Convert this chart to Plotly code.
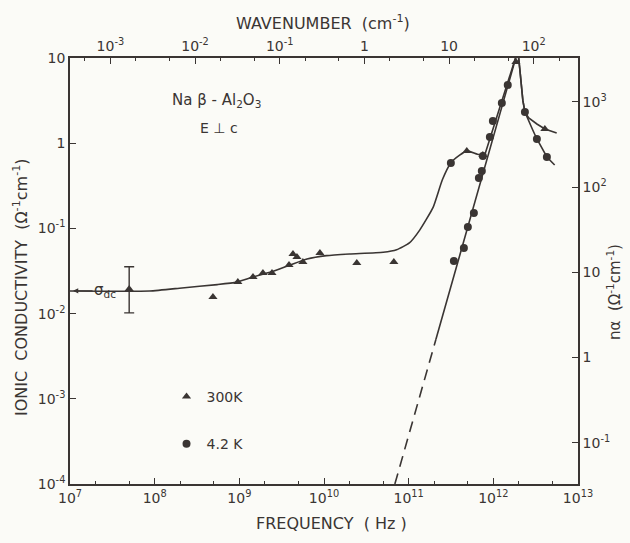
import numpy as np
import plotly.graph_objects as go

INK = "#3a3533"
BG = "#fbfbf7"
FONT = "DejaVu Sans"

# ---- data ----
# 300 K fitted curve: frequency (Hz), conductivity (ohm^-1 cm^-1)
f300_curve = [1.0e7, 8.7e7, 2.1e8, 5.5e8, 9.3e8, 1.45e9, 2.4e9, 4.0e9, 6.3e9, 1.07e10,
              2.0e10, 5.0e10, 7.2e10, 1.02e11, 1.35e11, 1.95e11, 2.5e11,
              3.16e11, 4.0e11, 4.9e11, 6.5e11, 7.9e11]
s300_curve = [0.0184, 0.0184, 0.0200, 0.0219, 0.0234, 0.0269, 0.0309, 0.0372, 0.0437, 0.0479,
              0.0501, 0.0525, 0.0562, 0.0676, 0.0955, 0.178, 0.372,
              0.589, 0.724, 0.813, 0.741, 0.724]
# 300 K curve continued through the peak (straight rise, then upper high-frequency branch)
f300_tail = [7.9e11, 1.95e12, 2.06e12, 2.23e12, 2.36e12, 2.62e12, 3.27e12, 4.06e12, 5.6e12]
s300_tail = [0.724, 12.3, 7.2, 3.2, 2.32, 1.98, 1.68, 1.47, 1.32]

# 4.2 K curve: dashed extrapolation, then solid line through the peak
f42_dash = [6.87e10, 2.10e11]
s42_dash = [1.0e-4, 5.0e-3]
f42_curve = [2.10e11, 1.95e12, 2.06e12, 2.23e12, 2.36e12, 2.62e12, 2.92e12, 3.27e12, 4.29e12, 5.3e12]
s42_curve = [5.0e-3, 12.3, 7.2, 3.2, 2.32, 1.87, 1.43, 1.12, 0.689, 0.555]

# 300 K measured points (triangles)
f300_pts = [4.88e8, 9.6e8, 1.45e9, 1.9e9, 2.43e9, 3.86e9, 4.3e9, 4.79e9, 5.63e9, 8.95e9,
            2.44e10, 6.68e10, 4.86e11, 7.52e11, 4.06e12, 1.85e12]
s300_pts = [0.0157, 0.0235, 0.0269, 0.0300, 0.0300, 0.0372, 0.0500, 0.0462, 0.0403, 0.0514,
            0.0393, 0.0403, 0.809, 0.728, 1.47, 9.0]

# 4.2 K measured points (circles)
f42_pts = [3.15e11, 3.42e11, 4.49e11, 5.0e11, 5.89e11, 6.75e11, 7.31e11, 7.52e11, 9.1e11,
           9.87e11, 1.26e12, 1.48e12, 2.36e12, 3.27e12, 4.29e12]
s42_pts = [0.586, 0.0414, 0.0589, 0.104, 0.152, 0.391, 0.472, 0.708, 1.18,
           1.82, 2.96, 4.82, 2.32, 1.12, 0.689]

# dc conductivity point with error bar
f_dc = [5.0e7]
s_dc = [0.0195]
s_dc_up = [0.016]
s_dc_down = [0.0093]
sigma_dc = 0.0185

x_ticks = [1e7, 1e8, 1e9, 1e10, 1e11, 1e12, 1e13]
x_text = ["10<sup>7</sup>", "10<sup>8</sup>", "10<sup>9</sup>", "10<sup>10</sup>",
          "10<sup>11</sup>", "10<sup>12</sup>", "10<sup>13</sup>"]
y_ticks = [10, 1, 0.1, 0.01, 0.001, 0.0001]
y_text = ["10", "1", "10<sup>-1</sup>", "10<sup>-2</sup>", "10<sup>-3</sup>", "10<sup>-4</sup>"]
k_ticks = [1e-3, 1e-2, 1e-1, 1, 10, 100]
k_text = ["10<sup>-3</sup>", "10<sup>-2</sup>", "10<sup>-1</sup>", "1", "10", "10<sup>2</sup>"]
na_ticks = [1e3, 1e2, 10, 1, 0.1]
na_text = ["10<sup>3</sup>", "10<sup>2</sup>", "10", "1", "10<sup>-1</sup>"]

C_LIGHT = 3.0e10  # cm/s, wavenumber = f / c
NA_OFFSET = 2.516  # log10(n*alpha) - log10(sigma)

fig = go.Figure()

fig.add_trace(go.Scatter(x=f300_curve, y=s300_curve, mode="lines",
                         line=dict(color=INK, width=1.6, shape="spline", smoothing=0.5),
                         showlegend=False, hoverinfo="skip"))
fig.add_trace(go.Scatter(x=f300_tail, y=s300_tail, mode="lines",
                         line=dict(color=INK, width=1.6), showlegend=False, hoverinfo="skip"))
fig.add_trace(go.Scatter(x=f42_dash, y=s42_dash, mode="lines",
                         line=dict(color=INK, width=1.6, dash="11px,7px"), showlegend=False,
                         hoverinfo="skip"))
fig.add_trace(go.Scatter(x=f42_curve, y=s42_curve, mode="lines",
                         line=dict(color=INK, width=1.6), showlegend=False, hoverinfo="skip"))
fig.add_trace(go.Scatter(x=f300_pts, y=s300_pts, mode="markers", name="300K",
                         legendgroup="a",
                         marker=dict(symbol="triangle-up", size=8, color=INK)))
fig.add_trace(go.Scatter(x=f42_pts, y=s42_pts, mode="markers", name="4.2 K",
                         legendgroup="b",
                         marker=dict(symbol="circle", size=8, color=INK)))
fig.add_trace(go.Scatter(x=f_dc, y=s_dc, mode="markers", showlegend=False,
                         marker=dict(symbol="triangle-up", size=8, color=INK),
                         error_y=dict(type="data", symmetric=False, array=s_dc_up,
                                      arrayminus=s_dc_down, color=INK, thickness=1.4, width=5)))
# invisible traces to activate the secondary axes
fig.add_trace(go.Scatter(x=[1.0], y=[s_dc[0]], xaxis="x2", yaxis="y", mode="markers",
                         marker=dict(opacity=0), showlegend=False, hoverinfo="skip"))
fig.add_trace(go.Scatter(x=[1e10], y=[10.0], xaxis="x", yaxis="y2", mode="markers",
                         marker=dict(opacity=0), showlegend=False, hoverinfo="skip"))

axis_common = dict(type="log", showgrid=False, zeroline=False, showline=True,
                   linecolor=INK, linewidth=1.6, ticks="inside", ticklen=6,
                   tickcolor=INK, tickwidth=1.3,
                   tickfont=dict(family=FONT, size=14, color=INK))

fig.update_layout(
    width=630, height=543,
    margin=dict(l=70, r=52, t=58, b=59),
    paper_bgcolor=BG, plot_bgcolor=BG,
    xaxis=dict(range=[7, 13], tickvals=x_ticks, ticktext=x_text,
               minor=dict(ticks="inside", ticklen=3, tickcolor=INK), **axis_common),
    xaxis2=dict(range=[np.log10(1e7 / C_LIGHT), np.log10(1e13 / C_LIGHT)],
                overlaying="x", side="top", anchor="y", tickvals=k_ticks, ticktext=k_text,
                minor=dict(ticks="inside", ticklen=3, tickcolor=INK), **axis_common),
    yaxis=dict(range=[-4, 1], tickvals=y_ticks, ticktext=y_text, **axis_common),
    yaxis2=dict(range=[-4 + NA_OFFSET, 1 + NA_OFFSET], overlaying="y", side="right",
                anchor="x", tickvals=na_ticks, ticktext=na_text, **axis_common),
    legend=dict(x=0.19, y=0.242, xanchor="left", yanchor="top", bgcolor="rgba(0,0,0,0)",
                traceorder="grouped", tracegroupgap=26,
                font=dict(family=FONT, size=14, color=INK)),
    font=dict(family=FONT, color=INK),
)

ann = [
    dict(text="WAVENUMBER  (cm<sup>-1</sup>)", x=323, y=22, size=16),
    dict(text="FREQUENCY  ( Hz )", x=331, y=523, size=16),
    dict(text="IONIC  CONDUCTIVITY  (Ω<sup>-1</sup>cm<sup>-1</sup>)", x=20, y=287, size=16, angle=-90),
    dict(text="nα  (Ω<sup>-1</sup>cm<sup>-1</sup>)", x=614, y=292, size=15, angle=-90),
    dict(text="Na β - Al<sub>2</sub>O<sub>3</sub>", x=216, y=100, size=15),
    dict(text="E ⊥ c", x=219, y=128, size=14),
]
for a in ann:
    fig.add_annotation(text=a["text"], xref="paper", yref="paper",
                       x=(a["x"] - 70) / 508, y=1 - (a["y"] - 58) / 426,
                       xanchor="center", yanchor="middle", showarrow=False,
                       textangle=a.get("angle", 0),
                       font=dict(family=FONT, size=a["size"], color=INK))

fig.add_annotation(text="σ<sub>dc</sub>", xref="paper", yref="y", x=0.006,
                   y=np.log10(sigma_dc), showarrow=True, arrowhead=2, arrowsize=0.8,
                   arrowwidth=1.3, arrowcolor=INK, ax=32, ay=0, standoff=0,
                   font=dict(family=FONT, size=15, color=INK))

fig.write_html("out.html")
